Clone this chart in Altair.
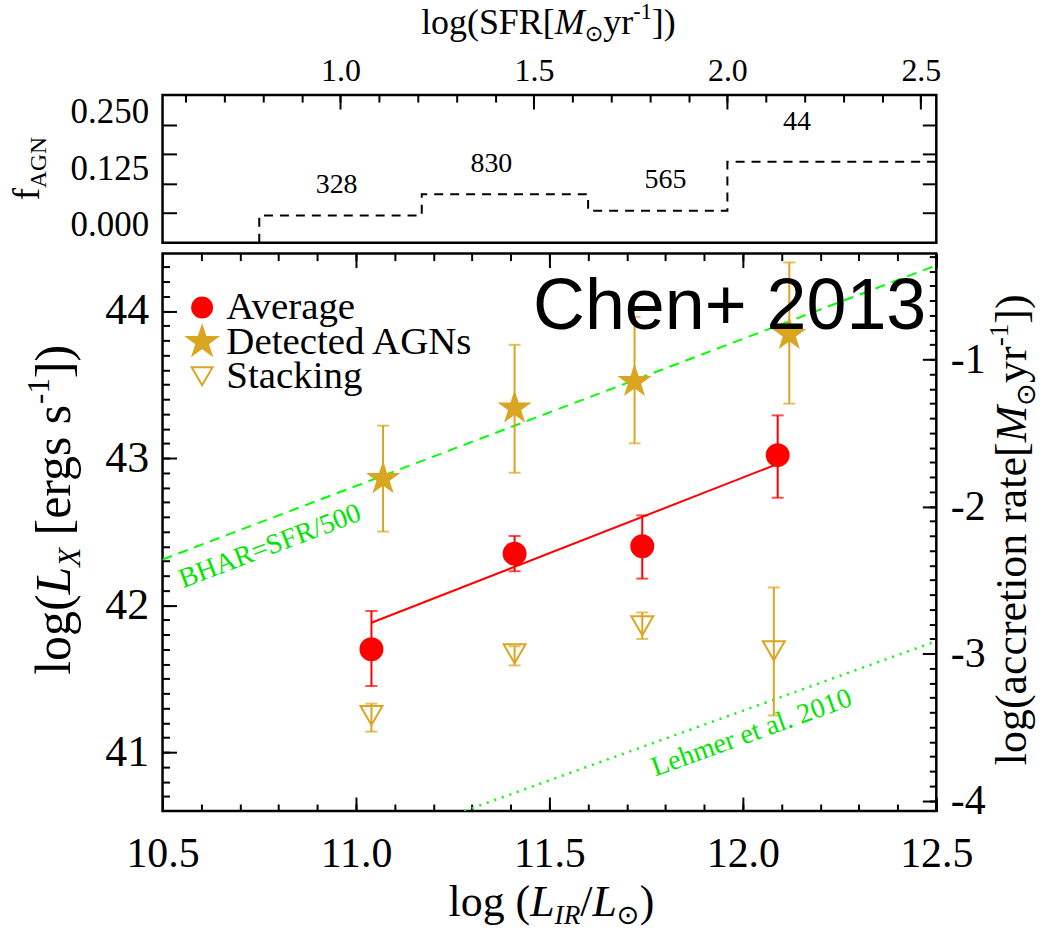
import altair as alt
import numpy as np
import pandas as pd

# ---------------- values ----------------
SERIES = ["Average", "Detected AGNs", "Stacking"]

AVG_LIR = [11.04, 11.41, 11.74, 12.09]
AVG_LX = [41.70, 42.35, 42.40, 43.02]
AVG_LO = [41.45, 42.23, 42.18, 42.73]
AVG_HI = [41.96, 42.47, 42.61, 43.29]

DET_LIR = [11.07, 11.41, 11.72, 12.12]
DET_LX = [42.86, 43.34, 43.52, 43.84]
DET_LO = [42.50, 42.90, 43.10, 43.37]
DET_HI = [43.22, 43.77, 43.96, 44.33]

STK_LIR = [11.04, 11.41, 11.74, 12.08]
STK_LX = [41.25, 41.67, 41.86, 41.69]
STK_LO = [41.14, 41.59, 41.77, 41.25]
STK_HI = [41.33, 41.72, 41.95, 42.12]

FIT_LIR = [11.04, 12.09]
FIT_LX = [41.88, 42.96]
BHAR_LIR = [10.5, 12.5]
BHAR_LX = [42.31, 44.31]
LEHMER_LIR = [11.28, 12.5]
LEHMER_LX = [40.60, 41.755]

BIN_EDGES = [10.75, 11.17, 11.60, 11.96, 12.50]
F_AGN = [0.046, 0.082, 0.054, 0.137]
N_TEXT = ["328", "830", "565", "44"]
N_LIR = [10.95, 11.35, 11.80, 12.14]
N_F = [0.098, 0.133, 0.106, 0.205]

LIR_TICKS = [10.5, 11.0, 11.5, 12.0, 12.5]
LX_TICKS = [41, 42, 43, 44]
ACC_TICKS = [-1, -2, -3, -4]
SFR_TICKS = [1.0, 1.5, 2.0, 2.5]
F_LABELS = [0.0, 0.125, 0.25]
F_TICKS = [0.05, 0.10, 0.15, 0.20]

ACC_OFFSET = 44.67   # log Lx where log(accretion rate) = 0
SFR_OFFSET = 9.96    # log L_IR - log SFR

LIR_DOMAIN = [10.5, 12.5]
LX_DOMAIN = [40.6, 44.39]
F_DOMAIN = [0.0, 0.25]

# minor tick positions
LIR_MINOR = [round(v, 2) for v in np.arange(10.5, 12.501, 0.1)]
LX_MINOR = [round(v, 2) for v in np.arange(40.7, 44.35, 0.1)]
ACC_MINOR = [round(v, 2) + ACC_OFFSET for v in np.arange(-4.0, -0.25, 0.1)]
SFR_MINOR = [round(v, 2) + SFR_OFFSET for v in np.arange(0.6, 2.501, 0.1)]

RED = "#ff0000"
GOLD = "#daa520"
GREEN = "#00ff00"
GREEN_TXT = "#00e600"
TIMES = "Liberation Serif"
SERIF = "Liberation Serif, DejaVu Sans"
SANS = "Liberation Sans"

STAR = ("M0,-1.35L0.306,-0.421L1.284,-0.417L0.495,0.161L0.794,1.092L0,0.52"
        "L-0.794,1.092L-0.495,0.161L-1.284,-0.417L-0.306,-0.421Z")

W = 776
H_TOP = 148
H_BOT = 559

XS = alt.Scale(domain=LIR_DOMAIN, nice=False, zero=False)
YS = alt.Scale(domain=LX_DOMAIN, nice=False, zero=False)
FS = alt.Scale(domain=F_DOMAIN, nice=False, zero=False)

# ---------------- helpers ----------------
REG = {' ': 0.25, '(': 0.333, ')': 0.333, '[': 0.333, ']': 0.333, '/': 0.278,
       '-': 0.333, '.': 0.25, 'a': 0.444, 'c': 0.444, 'e': 0.444, 'g': 0.5,
       'i': 0.278, 'l': 0.278, 'n': 0.5, 'o': 0.5, 'r': 0.333, 's': 0.389,
       't': 0.278, 'y': 0.5, 'f': 0.333, 'A': 0.722, 'F': 0.556, 'G': 0.722,
       'N': 0.722, 'R': 0.667, 'S': 0.556, '\u2299': 0.84}
ITA = {'L': 0.556, 'M': 0.833, 'X': 0.611, 'I': 0.333, 'R': 0.611}


def px_to_data(px, dom, size, flip=False):
    frac = px / size
    if flip:
        frac = 1 - frac
    return dom[0] + frac * (dom[1] - dom[0])


def rich_text(pieces, fs, anchor, center, yscale, ydom, height, vertical=False):
    """Rich (italic / sub / sup) label built from pieces, placed in panel pixels."""
    items = []
    for text, kind in pieces:
        small = kind in ("sub", "subi", "sup")
        italic = kind in ("i", "subi")
        size = fs * (0.62 if small else 1.0)
        shift = fs * (0.2 if kind in ("sub", "subi") else (-0.42 if kind == "sup" else 0.0))
        table = ITA if italic else REG
        lead = (len(text) - len(text.lstrip(" "))) * 0.25 * size
        core = text.strip(" ")
        w = sum(table.get(c, REG.get(c, 0.5)) for c in core) * size
        items.append((core, size, italic, shift, lead, w))
    total = sum(it[4] + it[5] for it in items)
    pos = center + total / 2 if vertical else center - total / 2
    layers = []
    for text, size, italic, shift, lead, w in items:
        if vertical:
            pos -= lead
            x, y = anchor + shift, pos
            pos -= w
        else:
            pos += lead
            x, y = pos, anchor + shift
            pos += w
        df = pd.DataFrame({"x": [px_to_data(x, LIR_DOMAIN, W)],
                           "y": [px_to_data(y, ydom, height, flip=True)]})
        layers.append(
            alt.Chart(df).mark_text(
                text=text, font=SERIF, fontSize=size,
                fontStyle="italic" if italic else "normal",
                align="left", baseline="alphabetic",
                angle=270 if vertical else 0, color="black",
            ).encode(x=alt.X("x:Q", scale=XS, axis=None),
                     y=alt.Y("y:Q", scale=yscale, axis=None))
        )
    return layers


def tick_kw(orient, length):
    return dict(orient=orient, tickSize=length, offset=-length, labels=False,
                domain=False, grid=False, title=None, ticks=True,
                tickColor="black", tickWidth=2)


def label_kw(orient, size, pad, fmt=None, expr=None, flush=False):
    kw = dict(orient=orient, ticks=False, tickSize=0, domain=False, grid=False,
              title=None, labelFont=TIMES, labelFontSize=size, labelPadding=pad,
              labelColor="black", labelFlush=flush, labelOverlap=False)
    if fmt:
        kw["format"] = fmt
    if expr:
        kw["labelExpr"] = expr
    return kw


def axis_layer(channel, values, yscale, ydom, axis_kw):
    vals = [float(v) for v in values]
    kw = dict(axis_kw)
    kw["values"] = vals
    ax = alt.Axis(**kw)
    if channel == "x":
        df = pd.DataFrame({"x": vals, "y": [sum(ydom) / 2] * len(vals)})
        enc = dict(x=alt.X("x:Q", scale=XS, axis=ax), y=alt.Y("y:Q", scale=yscale, axis=None))
    else:
        df = pd.DataFrame({"x": [sum(LIR_DOMAIN) / 2] * len(vals), "y": vals})
        enc = dict(x=alt.X("x:Q", scale=XS, axis=None), y=alt.Y("y:Q", scale=yscale, axis=ax))
    return alt.Chart(df).mark_point(opacity=0, size=1).encode(**enc)


# ---------------- top panel ----------------
step_x = [BIN_EDGES[0]] + BIN_EDGES
step_f = [0.0] + F_AGN + [F_AGN[-1]]
step_df = pd.DataFrame({"x": step_x, "f": step_f, "i": list(range(len(step_x)))})
counts_df = pd.DataFrame({"x": N_LIR, "f": N_F, "t": N_TEXT})

step_line = alt.Chart(step_df).mark_line(
    interpolate="step-after", color="black", strokeDash=[9, 7], strokeWidth=2
).encode(
    x=alt.X("x:Q", scale=XS, axis=None),
    y=alt.Y("f:Q", scale=FS, axis=None),
    order="i:Q",
)
count_text = alt.Chart(counts_df).mark_text(
    font=TIMES, fontSize=28, color="black", baseline="middle", align="center"
).encode(
    x=alt.X("x:Q", scale=XS, axis=None),
    y=alt.Y("f:Q", scale=FS, axis=None),
    text="t:N",
)

sfr_major = [v + SFR_OFFSET for v in SFR_TICKS]
top_layers = [
    step_line,
    count_text,
    axis_layer("x", sfr_major, FS, F_DOMAIN, tick_kw("top", 14)),
    axis_layer("x", SFR_MINOR, FS, F_DOMAIN, tick_kw("top", 7)),
    axis_layer("x", sfr_major, FS, F_DOMAIN, label_kw(
        "top", 32, 8, expr="format(datum.value - %s, '.1f')" % SFR_OFFSET)),
    axis_layer("y", F_LABELS, FS, F_DOMAIN, label_kw("left", 35, 14, fmt=".3f", flush=True)),
    axis_layer("y", F_TICKS, FS, F_DOMAIN, tick_kw("left", 14)),
    axis_layer("y", F_TICKS, FS, F_DOMAIN, tick_kw("right", 14)),
]
top_layers += rich_text(
    [("log(SFR[", "n"), ("M", "i"), ("\u2299", "sub"), ("yr", "n"), ("-1", "sup"), ("])", "n")],
    fs=36, anchor=-61, center=387, yscale=FS, ydom=F_DOMAIN, height=H_TOP)
top_layers += rich_text([("f", "n"), ("AGN", "sub")], fs=38, anchor=-124, center=74,
                        yscale=FS, ydom=F_DOMAIN, height=H_TOP, vertical=True)

top = alt.layer(*top_layers).properties(width=W, height=H_TOP).resolve_axis(
    x="independent", y="independent")

# ---------------- bottom panel ----------------
def frame(lir, lx, lo, hi, name):
    return pd.DataFrame({"x": lir, "y": lx, "lo": lo, "hi": hi, "series": name})

avg_df = frame(AVG_LIR, AVG_LX, AVG_LO, AVG_HI, SERIES[0])
det_df = frame(DET_LIR, DET_LX, DET_LO, DET_HI, SERIES[1])
stk_df = frame(STK_LIR, STK_LX, STK_LO, STK_HI, SERIES[2])
pts_df = pd.concat([avg_df, det_df, stk_df], ignore_index=True)


def X(f="x"):
    return alt.X(f + ":Q", scale=XS, axis=None)


def Y(f="y"):
    return alt.Y(f + ":Q", scale=YS, axis=None)


def errbars(df, color):
    base = alt.Chart(df)
    rule = base.mark_rule(color=color, strokeWidth=2).encode(x=X(), y=Y("lo"), y2="hi:Q")
    lo = base.mark_tick(color=color, orient="horizontal", size=12, thickness=2).encode(x=X(), y=Y("lo"))
    hi = base.mark_tick(color=color, orient="horizontal", size=12, thickness=2).encode(x=X(), y=Y("hi"))
    return [rule, lo, hi]


def line(xs, ys, **kw):
    df = pd.DataFrame({"x": xs, "y": ys})
    return alt.Chart(df).mark_line(clip=True, **kw).encode(x=X(), y=Y())


SHAPES = ["circle", STAR, "triangle-down"]
FILLS = [RED, GOLD, "transparent"]
STROKES = [RED, GOLD, GOLD]
shape_scale = alt.Scale(domain=SERIES, range=SHAPES)
fill_scale = alt.Scale(domain=SERIES, range=FILLS)
stroke_scale = alt.Scale(domain=SERIES, range=STROKES)

points = alt.Chart(pts_df).mark_point(size=484, strokeWidth=2, opacity=1).encode(
    x=X(), y=Y(),
    shape=alt.Shape("series:N", scale=shape_scale, legend=None),
    fill=alt.Fill("series:N", scale=fill_scale, legend=None),
    stroke=alt.Stroke("series:N", scale=stroke_scale, legend=None),
)

# in-plot key (legend), laid out in panel pixels like the original
LEG_SYMBOL_X = 39.7
LEG_TEXT_X = 64
LEG_ROWS = [54, 88.5, 123]
LEG_SIZES = [400, 545, 441]
legend_layers = []
for name, shp, fil, stk, sz, row in zip(SERIES, SHAPES, FILLS, STROKES, LEG_SIZES, LEG_ROWS):
    ly = px_to_data(row, LX_DOMAIN, H_BOT, flip=True)
    sym_df = pd.DataFrame({"x": [px_to_data(LEG_SYMBOL_X, LIR_DOMAIN, W)], "y": [ly]})
    txt_df = pd.DataFrame({"x": [px_to_data(LEG_TEXT_X, LIR_DOMAIN, W)], "y": [ly], "t": [name]})
    legend_layers.append(
        alt.Chart(sym_df).mark_point(shape=shp, fill=fil, stroke=stk, size=sz, strokeWidth=2,
                                     opacity=1, filled=(fil != "transparent"))
        .encode(x=X(), y=Y()))
    legend_layers.append(
        alt.Chart(txt_df).mark_text(font=TIMES, fontSize=39, color="black", align="left",
                                    baseline="middle")
        .encode(x=X(), y=Y(), text="t:N"))

ann_chen = alt.Chart(pd.DataFrame({"x": [12.474], "y": [43.878], "t": ["Chen+ 2013"]})).mark_text(
    font=SANS, fontSize=72, color="black", align="right", baseline="alphabetic"
).encode(x=X(), y=Y(), text="t:N")
ann_bhar = alt.Chart(pd.DataFrame({"x": [10.778], "y": [42.398], "t": ["BHAR=SFR/500"]})).mark_text(
    font=TIMES, fontSize=28, color=GREEN_TXT, align="center", baseline="middle", angle=339.2
).encode(x=X(), y=Y(), text="t:N")
ann_leh = alt.Chart(pd.DataFrame({"x": [12.023], "y": [41.129], "t": ["Lehmer et al. 2010"]})).mark_text(
    font=TIMES, fontSize=28, color=GREEN_TXT, align="center", baseline="middle", angle=340.2
).encode(x=X(), y=Y(), text="t:N")

acc_major = [v + ACC_OFFSET for v in ACC_TICKS]
bottom_layers = [
    line(BHAR_LIR, BHAR_LX, color=GREEN, strokeDash=[10, 7], strokeWidth=2),
    line(LEHMER_LIR, LEHMER_LX, color=GREEN, strokeDash=[2, 6], strokeWidth=2.5),
    line(FIT_LIR, FIT_LX, color=RED, strokeWidth=2),
]
bottom_layers += errbars(avg_df, RED)
bottom_layers += errbars(det_df, GOLD)
bottom_layers += errbars(stk_df, GOLD)
bottom_layers += [points, ann_bhar, ann_leh, ann_chen]
bottom_layers += legend_layers
bottom_layers += [
    axis_layer("x", LIR_TICKS, YS, LX_DOMAIN, tick_kw("bottom", 14)),
    axis_layer("x", LIR_MINOR, YS, LX_DOMAIN, tick_kw("bottom", 7)),
    axis_layer("x", LIR_TICKS, YS, LX_DOMAIN, label_kw("bottom", 42, 23, fmt=".1f")),
    axis_layer("x", LIR_TICKS, YS, LX_DOMAIN, tick_kw("top", 14)),
    axis_layer("x", LIR_MINOR, YS, LX_DOMAIN, tick_kw("top", 7)),
    axis_layer("y", LX_TICKS, YS, LX_DOMAIN, tick_kw("left", 14)),
    axis_layer("y", LX_MINOR, YS, LX_DOMAIN, tick_kw("left", 7)),
    axis_layer("y", LX_TICKS, YS, LX_DOMAIN, label_kw("left", 44, 14, fmt="d")),
    axis_layer("y", acc_major, YS, LX_DOMAIN, tick_kw("right", 14)),
    axis_layer("y", ACC_MINOR, YS, LX_DOMAIN, tick_kw("right", 7)),
    axis_layer("y", acc_major, YS, LX_DOMAIN, label_kw(
        "right", 42, 14, expr="'-' + format(%s - datum.value, '.0f')" % ACC_OFFSET)),
]
bottom_layers += rich_text(
    [("log (", "n"), ("L", "i"), ("IR", "subi"), ("/", "n"), ("L", "i"), ("\u2299", "sub"), (")", "n")],
    fs=44, anchor=664, center=390, yscale=YS, ydom=LX_DOMAIN, height=H_BOT)
bottom_layers += rich_text(
    [("log(", "n"), ("L", "i"), ("X", "subi"), (" [ergs s", "n"), ("-1", "sup"), ("])", "n")],
    fs=50, anchor=-93, center=257, yscale=YS, ydom=LX_DOMAIN, height=H_BOT, vertical=True)
bottom_layers += rich_text(
    [("log(accretion rate[", "n"), ("M", "i"), ("\u2299", "sub"), ("yr", "n"), ("-1", "sup"), ("])", "n")],
    fs=44, anchor=866, center=277, yscale=YS, ydom=LX_DOMAIN, height=H_BOT, vertical=True)

bottom = alt.layer(*bottom_layers).properties(width=W, height=H_BOT).resolve_axis(
    x="independent", y="independent")

chart = alt.vconcat(top, bottom, spacing=2).configure_view(
    stroke="black", strokeWidth=2.5
).properties(
    padding={"left": 7, "top": -2, "right": 2, "bottom": 0}
)

chart.save("out.html", embed_options={"renderer": "svg", "actions": False})
